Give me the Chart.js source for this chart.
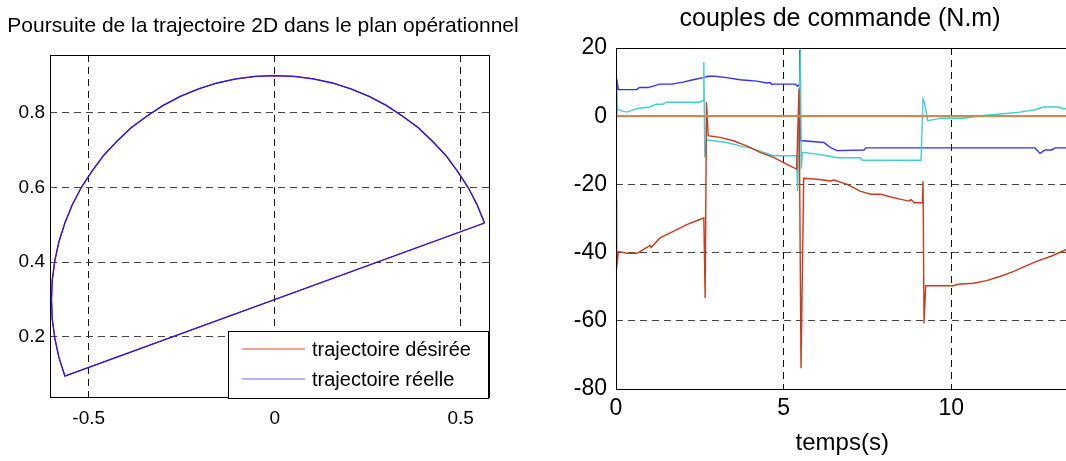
<!DOCTYPE html>
<html>
<head>
<meta charset="utf-8">
<script src="https://cdn.jsdelivr.net/npm/chart.js"></script>
<style>
  html, body { margin: 0; padding: 0; background: #fff; overflow: hidden; width: 1066px; height: 461px; }
  canvas { position: absolute; top: 0; }
  #trajectoire { left: 0; }
  #couples { left: 540px; }
</style>
</head>
<body>
<canvas id="trajectoire" width="530" height="461"></canvas>
<canvas id="couples" width="540" height="461"></canvas>
<script>
// --- données : trajectoire 2D (demi-cercle + diamètre) ---
const trajX = [0.564, 0.544, 0.520, 0.491, 0.460, 0.424, 0.386, 0.344, 0.300, 0.254, 0.205, 0.155, 0.104, 0.052, 0.000,
               -0.052, -0.104, -0.155, -0.205, -0.254, -0.300, -0.344, -0.386, -0.424, -0.460, -0.491, -0.520, -0.544,
               -0.564, -0.580, -0.591, -0.598, -0.600, -0.598, -0.591, -0.580, -0.564, 0.564];
const trajY = [0.505, 0.554, 0.600, 0.644, 0.686, 0.724, 0.760, 0.791, 0.820, 0.844, 0.864, 0.880, 0.891, 0.898, 0.900,
               0.898, 0.891, 0.880, 0.864, 0.844, 0.820, 0.791, 0.760, 0.724, 0.686, 0.644, 0.600, 0.554,
               0.505, 0.455, 0.404, 0.352, 0.300, 0.248, 0.196, 0.145, 0.095, 0.505];
const ticksXG = [-0.5, 0, 0.5];
const ticksYG = [0.2, 0.4, 0.6, 0.8];

// --- données : couples de commande (N.m) en fonction du temps ---
const bleuT = [0, 0.02, 0.07, 0.62, 0.7, 0.96, 1.3, 1.66, 2.0, 2.3, 2.6, 2.75, 2.95, 3.3, 3.7, 4.2, 4.5, 4.6, 4.65, 4.7,
               5.35, 5.42, 5.46, 5.48, 5.5, 5.58, 6.2, 6.4, 6.6, 7.4, 7.45, 12.5, 12.65, 12.8, 13.0, 13.1, 13.5];
const bleuV = [0, 11, 7.8, 7.8, 8.4, 8.4, 9.4, 9.4, 10.0, 10.7, 11.3, 11.7, 11.7, 11.3, 10.7, 10.3, 9.75, 9.9, 9.3, 9.4,
               9.4, 8.8, 9.2, 19.4, -7.2, -7.2, -7.7, -9.2, -10.1, -9.9, -9.3, -9.3, -10.9, -9.9, -9.9, -9.3, -9.3];

const cyanT = [0, 0.01, 0.05, 0.12, 0.32, 0.62, 1.0, 1.2, 1.4, 1.5, 2.5, 2.6, 2.62, 2.65, 2.7, 2.9, 3.3, 3.7, 4.1, 4.4,
               4.7, 5.38, 5.42, 5.5, 5.53, 5.56, 5.82, 6.3, 6.6, 7.3, 7.35, 9.1, 9.16, 9.2, 9.3, 9.6, 9.7, 10.35, 10.95, 11.55,
               12.05, 12.5, 12.75, 13.2, 13.35, 13.5];
const cyanV = [-24, 6.6, 2.0, 1.7, 1.2, 2.2, 2.7, 3.5, 3.5, 4.1, 4.1, 4.6, 15.9, -12.1, -7.0, -7.2, -7.7, -8.7, -9.6, -10.6,
               -11.6, -11.6, -22, 20, -15.4, -10.6, -10.9, -11.6, -12.2, -12.2, -12.9, -12.9, 5.1, 4.1, -1.3, -0.8, -0.6, -0.6, 0.2, 0.7,
               1.2, 1.9, 2.7, 2.7, 2.2, 2.2];

const rougeT = [0, 0.02, 0.07, 0.33, 0.62, 0.8, 1.02, 1.05, 1.31, 1.71, 2.11, 2.5, 2.62, 2.66, 2.7, 2.75, 3.1, 3.5, 3.9, 4.3,
                4.7, 5.1, 5.39, 5.46, 5.52, 5.6, 6.0, 6.4, 6.5, 6.9, 7.28, 7.6, 7.9, 8.2, 8.5, 8.75, 8.8, 8.9, 9.14, 9.16,
                9.19, 9.24, 10.07, 10.2, 10.67, 11.06, 11.45, 11.85, 12.25, 12.55, 13.0, 13.5];
const rougeV = [-24.3, -44.6, -39.7, -40.2, -40.2, -39.2, -37.9, -38.5, -35.7, -33.8, -31.8, -30.3, -29.8, -53.3, 4.1, -5.7, -6.2, -7.2, -8.7, -10.6,
                -12.1, -14.1, -15.5, 8.1, -73.9, -18.2, -18.5, -19, -18.7, -20, -22, -22.9, -22.9, -23.7, -24.4, -24.9, -24.4, -25.4, -25.4, -19,
                -60.8, -49.7, -49.7, -49.3, -49, -48.2, -47, -45.6, -43.8, -42.6, -41, -38.8];

const zeroT = [0, 13.5];
const zeroV = [0, 0];

const ticksXD = [0, 5, 10];
const ticksYD = [20, 0, -20, -40, -60, -80];

// --- utilitaires ---
const points = (xs, ys) => xs.map((x, i) => ({ x, y: ys[i] }));
const POLICE = "'Liberation Sans', Arial, sans-serif";
Chart.defaults.font.family = POLICE;
Chart.defaults.color = '#000';

// cadre noir façon MATLAB + titre placé à la main
const cadreMatlab = {
  id: 'cadreMatlab',
  afterDraw(chart, args, o) {
    const { ctx, chartArea: a } = chart;
    ctx.save();
    ctx.strokeStyle = '#000';
    ctx.lineWidth = 1;
    ctx.strokeRect(a.left + 0.5, a.top + 0.5, a.right - a.left, a.bottom - a.top);
    if (o.titre) {
      ctx.font = o.police;
      ctx.fillStyle = '#000';
      ctx.textAlign = 'center';
      ctx.textBaseline = 'alphabetic';
      ctx.fillText(o.titre, o.x, o.y);
    }
    ctx.restore();
  }
};

// légende encadrée dans le coin bas-droit du tracé
const legendeInterne = {
  id: 'legendeInterne',
  afterDraw(chart, args, o) {
    if (!o.items) return;
    const { ctx } = chart;
    ctx.save();
    ctx.fillStyle = '#fff';
    ctx.fillRect(o.x, o.y, o.w, o.h);
    ctx.strokeStyle = '#000';
    ctx.lineWidth = 1;
    ctx.strokeRect(o.x + 0.5, o.y + 0.5, o.w, o.h);
    ctx.font = o.police;
    ctx.textBaseline = 'middle';
    o.items.forEach((idx, i) => {
      const ds = chart.data.datasets[idx];
      const y = o.y + o.premier + i * o.pas;
      ctx.strokeStyle = ds.legendColor || ds.borderColor;
      ctx.lineWidth = 1.2;
      ctx.beginPath();
      ctx.moveTo(o.x + 14, y);
      ctx.lineTo(o.x + 77, y);
      ctx.stroke();
      ctx.fillStyle = '#000';
      ctx.fillText(ds.label, o.x + 84, y + 1);
    });
    ctx.restore();
  }
};

const axeLineaire = (min, max, ticks, extra) => Object.assign({
  type: 'linear', min, max,
  afterBuildTicks: s => { s.ticks = ticks.map(v => ({ value: v })); },
}, extra);

// --- graphique de gauche : poursuite de trajectoire ---
new Chart(document.getElementById('trajectoire'), {
  type: 'line',
  data: {
    datasets: [
      { label: 'trajectoire désirée', data: points(trajX, trajY), borderColor: '#ff0000', legendColor: '#ff3c3c',
        borderWidth: 1.2, pointRadius: 0, order: 1 },
      { label: 'trajectoire réelle', data: points(trajX, trajY), borderColor: '#1a1aff', legendColor: '#6b6bff',
        borderWidth: 1.3, pointRadius: 0, order: 0 }
    ]
  },
  options: {
    responsive: false, animation: false, events: [],
    layout: { padding: { top: 55, right: 41, left: 0, bottom: 0 } },
    scales: {
      x: axeLineaire(-0.604, 0.576, ticksXG, {
        afterFit: s => { s.height = 64; },
        grid: { color: '#111', drawTicks: false },
        border: { display: false, dash: [7, 5] },
        ticks: { font: { size: 19 }, padding: 10, callback: v => String(v) }
      }),
      y: axeLineaire(0.039, 0.955, ticksYG, {
        afterFit: s => { s.width = 50; },
        grid: { color: '#444', drawTicks: false },
        border: { display: false, dash: [7, 5] },
        ticks: { font: { size: 19 }, padding: 5, callback: v => String(v) }
      })
    },
    plugins: {
      legend: { display: false },
      tooltip: { enabled: false },
      cadreMatlab: { titre: 'Poursuite de la trajectoire 2D dans le plan opérationnel', police: '21px ' + POLICE, x: 263, y: 32 },
      legendeInterne: { items: [0, 1], x: 228, y: 331, w: 260, h: 67, premier: 18, pas: 30, police: '20px ' + POLICE }
    }
  },
  plugins: [cadreMatlab, legendeInterne]
});

// --- graphique de droite : couples de commande ---
new Chart(document.getElementById('couples'), {
  type: 'line',
  data: {
    datasets: [
      { label: 'zéro', data: points(zeroT, zeroV), borderColor: '#bf8f60', borderWidth: 2.2, pointRadius: 0, order: 0 },
      { label: 'couple 1', data: points(rougeT, rougeV), borderColor: '#cc3a1c', borderWidth: 1.4, pointRadius: 0, order: 1 },
      { label: 'couple 2', data: points(cyanT, cyanV), borderColor: '#3fcfcf', borderWidth: 1.4, pointRadius: 0, order: 2 },
      { label: 'couple 3', data: points(bleuT, bleuV), borderColor: '#3232ff', borderWidth: 1.4, pointRadius: 0, order: 3 }
    ]
  },
  options: {
    responsive: false, animation: false, events: [],
    layout: { padding: { top: 48, right: 11.5, left: 0, bottom: 0 } },
    scales: {
      x: axeLineaire(0, 13.5, ticksXD, {
        afterFit: s => { s.height = 72; },
        grid: { color: '#111', drawTicks: false },
        border: { display: false, dash: [7, 5] },
        ticks: { font: { size: 23 }, padding: 6, callback: v => String(v) },
        title: { display: true, text: 'temps(s)', font: { size: 24, lineHeight: 1.2 }, padding: { top: 0, bottom: 3 } }
      }),
      y: axeLineaire(-80, 20, ticksYD, {
        afterFit: s => { s.width = 76; },
        grid: { color: '#444', drawTicks: false },
        border: { display: false, dash: [7, 5] },
        ticks: { font: { size: 23 }, padding: 9, callback: v => String(v) }
      })
    },
    plugins: {
      legend: { display: false },
      tooltip: { enabled: false },
      cadreMatlab: { titre: 'couples de commande (N.m)', police: '25px ' + POLICE, x: 300, y: 26 }
    }
  },
  plugins: [cadreMatlab]
});
</script>
</body>
</html>
